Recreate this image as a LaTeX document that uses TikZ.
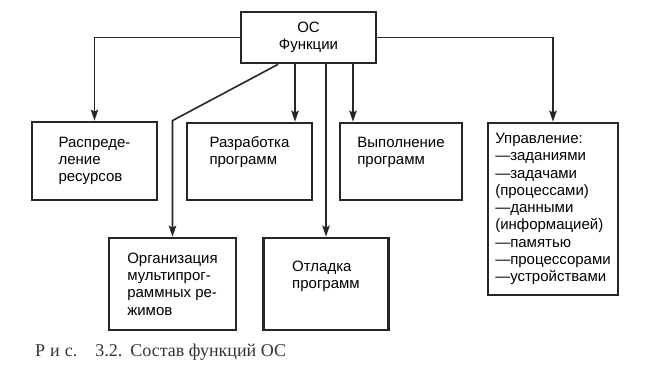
\documentclass[tikz,border=0pt]{standalone}
\usepackage{fontspec}
\setmainfont{Liberation Sans}
\newfontfamily\capfont{Liberation Serif}
\usetikzlibrary{arrows.meta}
\tikzset{
  box/.style={draw=black!85,line width=2.8pt,fill=white,align=left,
    font=\fontsize{15}{17.3}\selectfont,inner sep=0pt},
  arr/.style={draw=black!85,line width=1.6pt,-{Stealth[length=11pt,width=7.5pt,inset=2pt]}},
}
\begin{document}
\begin{tikzpicture}[x=1pt,y=-1pt]
  \useasboundingbox (0,0) rectangle (653,374);
  \node[box,align=center,minimum width=135,minimum height=51] (osf) at (308.5,37.5) {ОС\\Функции};
  \node[box,minimum width=125,minimum height=78] (resursy) at (94.5,161) {Распреде-\\ление\\ресурсов};
  \node[box,minimum width=125,minimum height=77,text depth=22pt] (razrab) at (249.5,161.5) {Разработка\\программ};
  \node[box,minimum width=122,minimum height=77,text depth=22pt] (vypoln) at (401,161.5) {Выполнение\\программ};
  \node[box,minimum width=130,minimum height=172] (uprav) at (553,209)
    {Управление:\\—заданиями\\—задачами\\(процессами)\\—данными\\(информацией)\\—памятью\\—процессорами\\—устройствами};
  \node[box,minimum width=127,minimum height=92] (organiz) at (172.5,284) {Организация\\мультипрог-\\раммных ре-\\жимов};
  \node[box,minimum width=125,minimum height=92,text depth=18pt] (otladka) at (326,284) {Отладка\\программ};
  % drop points on the lower edge of the top box
  \coordinate (d1) at (278,0);
  \coordinate (r1) at (295,0);
  \coordinate (v1) at (353,0);
  \draw[arr] (osf.west) -| (resursy);
  \draw[arr] (osf.east) -| (uprav);
  \draw[arr] (osf.south -| r1) -- (razrab.north -| r1);
  \draw[arr] (osf.south -| v1) -- (vypoln.north -| v1);
  \draw[arr] (osf.south -| otladka) -- (otladka);
  \draw[arr] (osf.south -| d1) -- (organiz.north |- resursy.north) -- (organiz);
  \node[anchor=base west,font=\capfont\fontsize{18}{21}\selectfont,text=black!80,inner sep=0pt] (cap) at (35,356)
    {Р\kern5pt и\kern5pt с.\kern18pt 3.2.\kern8pt Состав функций ОС};
\end{tikzpicture}
\end{document}
